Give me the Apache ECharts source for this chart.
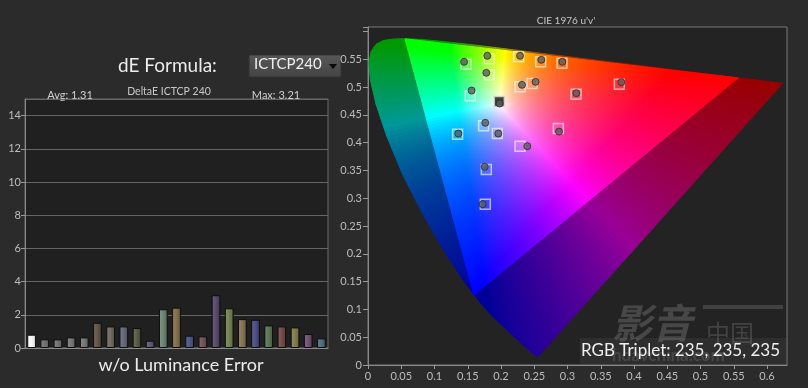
<!DOCTYPE html>
<html><head><meta charset="utf-8">
<script src="https://cdn.jsdelivr.net/npm/echarts@6/dist/echarts.min.js"></script>
<style>html,body{margin:0;padding:0;background:#2b2b2b}#c{width:808px;height:388px}</style>
</head><body><div id="c"></div><script>
// ---- Left chart data ----
const patchNames = ['P1','P2','P3','P4','P5','P6','P7','P8','P9','P10','P11','P12','P13','P14','P15','P16','P17','P18','P19','P20','P21','P22','P23'];
const deltaE = [0.80,0.52,0.52,0.64,0.64,1.52,1.30,1.30,1.20,0.44,2.33,2.43,0.74,0.70,3.18,2.39,1.74,1.70,1.36,1.30,1.24,0.84,0.58];
const deltaETicks = [0,2,4,6,8,10,12,14];
const patchColors = ['#f0f0f0','#6e6e6e','#6e6e6e','#727272','#727272','#5e5245','#6e6460','#5e6474','#535842','#5a5670','#6a7e70','#7c6c4c','#4a5480','#6e5058','#544666','#6e7c4e','#7e7050','#4a4a80','#567050','#6e4846','#7c7848','#6e4e6e','#4e6a78'];

// ---- Right chart data (CIE 1976 u'v') ----
const locusU = [0.2568,0.2557,0.2522,0.2461,0.2347,0.2161,0.1877,0.1690,0.1441,0.1147,0.0828,0.0521,0.0282,0.0119,0.0035,0.0014,0.0046,0.0123,0.0231,0.0360,0.0501,0.0792,0.1127,0.1531,0.2026,0.2623,0.3315,0.4035,0.5203,0.5830,0.6234];
const locusV = [0.0166,0.0159,0.0169,0.0226,0.0350,0.0549,0.0871,0.1119,0.1510,0.2044,0.2708,0.3427,0.4117,0.4698,0.5131,0.5432,0.5638,0.5770,0.5837,0.5861,0.5868,0.5856,0.5821,0.5766,0.5694,0.5604,0.5501,0.5393,0.5219,0.5125,0.5065];
const primaryU = [0.5566,0.0556,0.1593];
const primaryV = [0.5165,0.5868,0.1258];
const whiteU = 0.1978, whiteV = 0.4683;
const targetU = [0.1474,0.1824,0.2265,0.2596,0.2917,0.1824,0.2286,0.2466,0.3779,0.3128,0.1538,0.1974,0.1738,0.1347,0.1944,0.2862,0.2286,0.1779,0.1764];
const targetV = [0.5412,0.5508,0.5544,0.5454,0.5430,0.5220,0.5004,0.5063,0.5052,0.4872,0.4842,0.4739,0.4302,0.4152,0.4163,0.4253,0.3936,0.3515,0.2892];
const measuredU = [0.1444,0.1794,0.2286,0.2606,0.2922,0.1779,0.2316,0.2520,0.3809,0.3132,0.1558,0.1979,0.1764,0.1358,0.1959,0.2872,0.2395,0.1754,0.1724];
const measuredV = [0.5454,0.5562,0.5562,0.5490,0.5454,0.5256,0.5040,0.5094,0.5088,0.4890,0.4937,0.4703,0.4356,0.4163,0.4163,0.4199,0.3936,0.3564,0.2892];
const whiteIndex = 11;
const uvTickStep = 0.05;

// ---- helpers ----
function uvToRgb(u, v, k) {
  const d = 6*u - 16*v + 12;
  const x = 9*u/d, y = 4*v/d;
  const X = x/y, Y = 1, Z = (1-x-y)/y;
  let r = 3.2406*X - 1.5372*Y - 0.4986*Z;
  let g = -0.9689*X + 1.8758*Y + 0.0415*Z;
  let b = 0.0557*X - 0.2040*Y + 1.0570*Z;
  r = Math.max(r,0); g = Math.max(g,0); b = Math.max(b,0);
  const m = Math.max(r,g,b) || 1;
  const f = c => Math.round(255*k*Math.pow(c/m, 0.8));
  return 'rgb(' + f(r) + ',' + f(g) + ',' + f(b) + ')';
}
function shade(hex, amt) {
  const n = parseInt(hex.slice(1),16);
  let r=(n>>16)&255, g=(n>>8)&255, b=n&255;
  const f = c => Math.max(0, Math.min(255, Math.round(c + amt)));
  return 'rgb(' + f(r) + ',' + f(g) + ',' + f(b) + ')';
}
function subdivide(pts, step) {
  const out = [];
  for (let i = 0; i < pts.length; i++) {
    const a = pts[i], b = pts[(i+1) % pts.length];
    const len = Math.hypot(b[0]-a[0], b[1]-a[1]);
    const n = Math.max(1, Math.ceil(len/step));
    for (let j = 0; j < n; j++) {
      out.push([[a[0]+(b[0]-a[0])*j/n, a[1]+(b[1]-a[1])*j/n],[a[0]+(b[0]-a[0])*(j+1)/n, a[1]+(b[1]-a[1])*(j+1)/n]]);
    }
  }
  return out;
}
function wedges(api, pts, k, step, children) {
  const w = [whiteU, whiteV];
  const W = api.coord(w);
  subdivide(pts, step).forEach(function(seg) {
    const a = seg[0], b = seg[1];
    const m = [(a[0]+b[0])/2, (a[1]+b[1])/2];
    const A = api.coord(a), B = api.coord(b), M = api.coord(m);
    const r = Math.hypot(M[0]-W[0], M[1]-W[1]);
    const stops = [];
    for (let i = 0; i <= 12; i++) {
      const f = i/12;
      stops.push({offset: f, color: uvToRgb(w[0]+f*(m[0]-w[0]), w[1]+f*(m[1]-w[1]), k)});
    }
    const grad = {type:'radial', x: W[0], y: W[1], r: r, colorStops: stops, global: true};
    children.push({type:'polygon', shape:{points:[W, A, B]}, style:{fill: grad, stroke: grad, lineWidth: 1}});
  });
}

const locusPts = locusU.map((u,i) => [u, locusV[i]]);
const triPts = primaryU.map((u,i) => [u, primaryV[i]]);

const chart = echarts.init(document.getElementById('c'), null, {renderer:'canvas'});
const FONT = 'Lato, "Open Sans", sans-serif';

const option = {
  backgroundColor: '#2b2b2b',
  animation: false,
  textStyle: {fontFamily: FONT},
  grid: [
    {left: 25, top: 99, width: 303, height: 249, show: true, backgroundColor: '#202020', borderColor: '#6a6a6a', borderWidth: 1},
    {left: 368, top: 27, width: 419, height: 338, show: true, backgroundColor: '#232323', borderColor: '#7a7a7a', borderWidth: 1}
  ],
  xAxis: [
    {gridIndex: 0, type: 'category', data: patchNames, boundaryGap: true,
     axisLine: {lineStyle: {color: '#8a8a8a'}}, axisTick: {show: false}, axisLabel: {show: false}},
    {gridIndex: 1, type: 'value', min: 0, max: 0.63, interval: uvTickStep,
     axisLine: {onZero: false, lineStyle: {color: '#8a8a8a'}}, axisTick: {length: 4, lineStyle: {color: '#9a9a9a'}},
     splitLine: {show: false},
     axisLabel: {color: '#bdbdbd', fontSize: 11, margin: 6, showMaxLabel: false, fontFamily: FONT}}
  ],
  yAxis: [
    {gridIndex: 0, type: 'value', min: deltaETicks[0], max: 15, interval: deltaETicks[1]-deltaETicks[0],
     axisLine: {show: true, lineStyle: {color: '#8a8a8a'}}, axisTick: {show: true, length: 4, lineStyle: {color: '#9a9a9a'}},
     splitLine: {lineStyle: {color: '#666', width: 1}},
     axisLabel: {color: '#bdbdbd', fontSize: 11, margin: 4, showMaxLabel: false, fontFamily: FONT}},
    {gridIndex: 1, type: 'value', min: 0, max: 0.608, interval: uvTickStep,
     axisLine: {show: true, onZero: false, lineStyle: {color: '#8a8a8a'}}, axisTick: {length: 5, lineStyle: {color: '#9a9a9a'}},
     splitLine: {show: false},
     axisLabel: {color: '#bdbdbd', fontSize: 11, margin: 6, fontFamily: FONT,
       formatter: v => (v > 0.58 ? '' : String(+v.toFixed(2)))}}
  ],
  series: [
    {type: 'bar', xAxisIndex: 0, yAxisIndex: 0, barWidth: '66%',
     data: deltaE.map((v,i) => ({value: v, itemStyle: {
       color: {type:'linear', x:0, y:0, x2:1, y2:0, colorStops:[
         {offset:0, color: shade(patchColors[i], 25)}, {offset:0.5, color: shade(patchColors[i], 5)}, {offset:1, color: shade(patchColors[i], -20)}]},
       borderColor: '#0e0e0e', borderWidth: 1}}))},
    {type: 'custom', xAxisIndex: 1, yAxisIndex: 1, silent: true, z: 1,
     data: [[whiteU, whiteV]],
     renderItem: function(params, api) {
       const children = [];
       wedges(api, locusPts, 0.6, 0.008, children);
       wedges(api, triPts, 1.0, 0.006, children);
       return {type: 'group', children: children};
     }},
    {type: 'scatter', xAxisIndex: 1, yAxisIndex: 1, z: 3, symbol: 'rect', symbolSize: 10,
     data: targetU.map((u,i) => ({value: [u, targetV[i]], itemStyle: i === whiteIndex ?
       {color: '#111', borderColor: '#d8d8d8', borderWidth: 1.5} :
       {color: 'rgba(255,255,255,0.12)', borderColor: 'rgba(255,255,255,0.75)', borderWidth: 1.5}}))},
    {type: 'scatter', xAxisIndex: 1, yAxisIndex: 1, z: 4, symbol: 'circle', symbolSize: 7,
     itemStyle: {color: '#5c5c5c', borderColor: '#2a2a2a', borderWidth: 1},
     data: measuredU.map((u,i) => [u, measuredV[i]])}
  ],
  graphic: [
    {type: 'text', left: 118, top: 56, style: {text: 'dE Formula:', fill: '#ececec', font: '19px ' + FONT}},
    {type: 'rect', shape: {x: 249, y: 55, width: 92, height: 22}, style: {fill: {type:'linear', x:0,y:0,x2:0,y2:1, colorStops:[{offset:0,color:'#575757'},{offset:1,color:'#444'}]}, stroke: '#333'}},
    {type: 'text', left: 254, top: 57, style: {text: 'ICTCP240', fill: '#efefef', font: '15px ' + FONT}},
    {type: 'polygon', shape: {points: [[329,64],[337,64],[333,69]]}, style: {fill: '#0a0a0a'}},
    {type: 'text', x: 70, y: 95, style: {text: 'Avg: 1.31', fill: '#d0d0d0', font: '11px ' + FONT, align: 'center', verticalAlign: 'middle'}},
    {type: 'text', x: 169, y: 92, style: {text: 'DeltaE ICTCP 240', fill: '#c8c8c8', font: '10.5px ' + FONT, align: 'center', verticalAlign: 'middle'}},
    {type: 'text', x: 276, y: 95, style: {text: 'Max: 3.21', fill: '#d0d0d0', font: '11px ' + FONT, align: 'center', verticalAlign: 'middle'}},
    {type: 'text', x: 181, y: 365, style: {text: 'w/o Luminance Error', fill: '#ececec', font: '18px ' + FONT, align: 'center', verticalAlign: 'middle'}},
    {type: 'text', x: 566, y: 21, style: {text: "CIE 1976 u'v'", fill: '#c8c8c8', font: '10px ' + FONT, align: 'center', verticalAlign: 'middle'}},
    {type: 'rect', z: 10, shape: {x: 580, y: 338, width: 206, height: 26}, style: {fill: 'rgba(255,255,255,0.05)'}},
    {type: 'text', z: 10, x: 612, y: 323, style: {text: '影音', fill: 'rgba(140,140,140,0.35)', font: 'italic bold 40px "Noto Sans CJK SC"', verticalAlign: 'middle'}},
    {type: 'text', z: 10, x: 706, y: 333, style: {text: '中国', fill: 'rgba(140,140,140,0.3)', font: '24px "Noto Sans CJK SC"', verticalAlign: 'middle'}},
    {type: 'rect', z: 10, shape: {x: 703, y: 305, width: 80, height: 4}, style: {fill: 'rgba(140,140,140,0.3)'}},
    {type: 'text', z: 10, x: 612, y: 356, style: {text: 'hdavchina.com', fill: 'rgba(120,120,120,0.35)', font: 'bold 17px ' + FONT, verticalAlign: 'middle'}},
    {type: 'text', z: 11, x: 780, y: 351, style: {text: 'RGB Triplet: 235, 235, 235', fill: '#f0f0f0', font: '17px ' + FONT, align: 'right', verticalAlign: 'middle'}}
  ]
};
chart.setOption(option);
</script></body></html>
